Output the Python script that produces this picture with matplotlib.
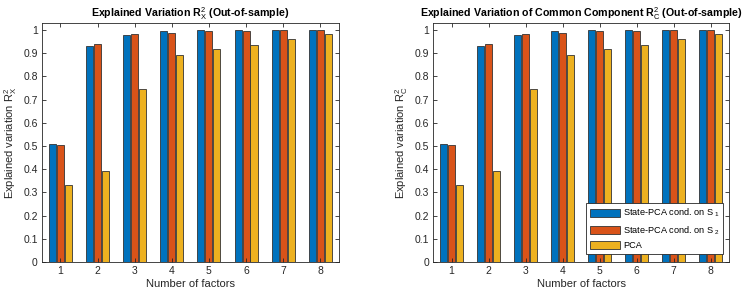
import numpy as np
import matplotlib.pyplot as plt

plt.rcParams["font.family"] = ["Liberation Sans", "DejaVu Sans"]
plt.rcParams["mathtext.fontset"] = "custom"
plt.rcParams["mathtext.rm"] = "Liberation Sans"
plt.rcParams["mathtext.it"] = "Liberation Sans"
plt.rcParams["mathtext.bf"] = "Liberation Sans:bold"

factors = [1, 2, 3, 4, 5, 6, 7, 8]

# left panel: R^2_X
rx_s1 = [0.510, 0.932, 0.978, 0.996, 0.998, 0.998, 0.998, 0.998]
rx_s2 = [0.503, 0.939, 0.984, 0.988, 0.997, 0.997, 0.998, 0.998]
rx_pca = [0.331, 0.393, 0.745, 0.890, 0.918, 0.935, 0.960, 0.981]

# right panel: R^2_C
rc_s1 = [0.510, 0.933, 0.979, 0.996, 0.998, 0.998, 0.998, 0.998]
rc_s2 = [0.503, 0.940, 0.984, 0.989, 0.997, 0.997, 0.998, 0.998]
rc_pca = [0.330, 0.393, 0.745, 0.890, 0.918, 0.935, 0.960, 0.981]

labels = [r"State-PCA cond. on S$_{\ 1}$", r"State-PCA cond. on S$_{\ 2}$", "PCA"]
colors = ["#0072BD", "#D95319", "#EDB120"]

fig = plt.figure(figsize=(7.48, 2.95), dpi=100)
ax1 = fig.add_axes([0.056, 0.112, 0.397, 0.81])
ax2 = fig.add_axes([0.579, 0.112, 0.396, 0.81])


def draw(ax, series, title, ylab, tsize):
    x = np.array(factors)
    w = 0.19
    offs = [-0.215, 0.0, 0.215]
    for s, c, o, lab in zip(series, colors, offs, labels):
        ax.bar(x + o, s, width=w, color=c, edgecolor="#333333",
               linewidth=0.6, label=lab)
    ax.set_xlim(0.5, 8.5)
    ax.set_ylim(0, 1.03)
    ax.set_xticks(factors)
    ax.set_yticks(np.arange(0, 1.01, 0.1))
    ax.set_yticklabels(["0", "0.1", "0.2", "0.3", "0.4", "0.5",
                        "0.6", "0.7", "0.8", "0.9", "1"])
    ax.tick_params(direction="in", top=True, right=True, length=3,
                   width=0.6, labelsize=7.5, colors="#262626", pad=3)
    for sp in ax.spines.values():
        sp.set_color("#262626")
        sp.set_linewidth(0.6)
    ax.set_title(title, fontsize=tsize, fontweight="bold", pad=4)
    ax.set_xlabel("Number of factors", fontsize=8, color="#262626", labelpad=2)
    ax.set_ylabel(ylab, fontsize=8, color="#262626", labelpad=3)


draw(ax1, [rx_s1, rx_s2, rx_pca],
     r"Explained Variation R$^2_X$ (Out-of-sample)",
     r"Explained variation R$^2_X$", 7.7)
draw(ax2, [rc_s1, rc_s2, rc_pca],
     r"Explained Variation of Common Component R$^2_C$ (Out-of-sample)",
     r"Explained variation R$^2_C$", 7.7)

leg = ax2.legend(loc="lower right", fontsize=6.6, handlelength=3.3,
                 handleheight=1.0, borderpad=0.4, labelspacing=0.5,
                 handletextpad=0.35, fancybox=False, framealpha=1,
                 borderaxespad=0, bbox_to_anchor=(0.98, 0.033))
leg.get_frame().set_edgecolor("#262626")
leg.get_frame().set_linewidth(0.6)

fig.savefig("out.png", dpi=100)
